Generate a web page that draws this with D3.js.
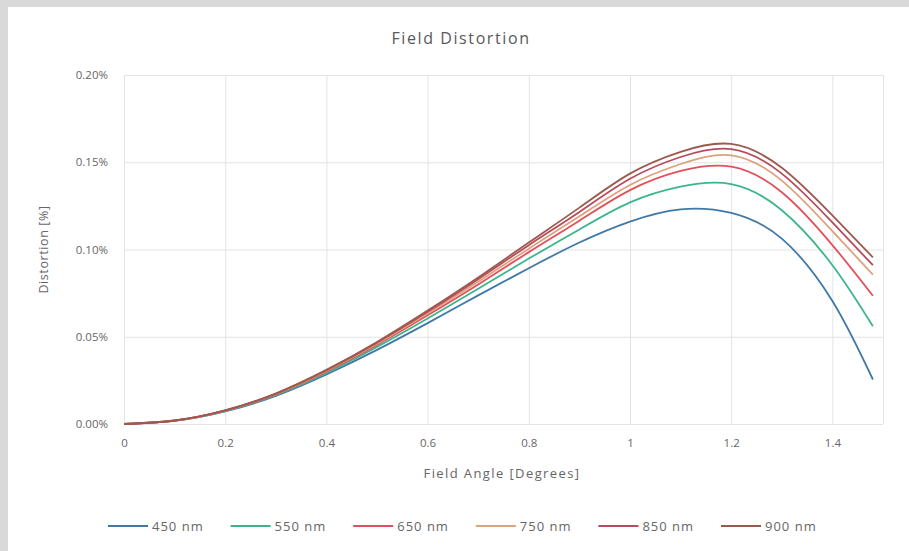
<!DOCTYPE html>
<html lang="en">
<head>
    <meta charset="UTF-8">
    <title>Field Distortion</title>
    <script src="https://d3js.org/d3.v7.min.js"></script>
    <style>
        body { margin: 0; background: #d9d9d9; }
        svg { display: block; font-family: "Open Sans", sans-serif; }
    </style>
</head>
<body>
    <div id="chart"></div>

    <script>
        // field angle in degrees
        const angles = [0, 0.1, 0.2, 0.3, 0.4, 0.5, 0.6, 0.7, 0.8, 0.9, 1.0, 1.1, 1.2, 1.3, 1.4, 1.48];

        // distortion in percent
        const d450 = [0, 0.0018, 0.0072, 0.0161, 0.0284, 0.0425, 0.0578, 0.0737, 0.0893, 0.1040, 0.1160, 0.1230, 0.1210, 0.1062, 0.0705, 0.0255];
        const d550 = [0, 0.0019, 0.0074, 0.0166, 0.0293, 0.0442, 0.0605, 0.0775, 0.0948, 0.1115, 0.1270, 0.1360, 0.1375, 0.1225, 0.0910, 0.0560];
        const d650 = [0, 0.0019, 0.0076, 0.0170, 0.0300, 0.0453, 0.0623, 0.0800, 0.0985, 0.1165, 0.1340, 0.1450, 0.1475, 0.1328, 0.1025, 0.0735];
        const d750 = [0, 0.0019, 0.0077, 0.0172, 0.0304, 0.0460, 0.0634, 0.0815, 0.1005, 0.1190, 0.1370, 0.1490, 0.1540, 0.1395, 0.1105, 0.0856];
        const d850 = [0, 0.0020, 0.0078, 0.0174, 0.0308, 0.0466, 0.0643, 0.0830, 0.1025, 0.1215, 0.1405, 0.1530, 0.1575, 0.1435, 0.1155, 0.0910];
        const d900 = [0, 0.0020, 0.0078, 0.0175, 0.0310, 0.0470, 0.0650, 0.0840, 0.1040, 0.1240, 0.1435, 0.1560, 0.1605, 0.1468, 0.1195, 0.0955];

        const seriesNames = ["450 nm", "550 nm", "650 nm", "750 nm", "850 nm", "900 nm"];
        const seriesValues = [d450, d550, d650, d750, d850, d900];
        const colors = ["#4079a8", "#3db58b", "#e2505c", "#dca27c", "#b94a5e", "#9c5a4c"];

        const xTicks = [0, 0.2, 0.4, 0.6, 0.8, 1, 1.2, 1.4];
        const yTicks = [0, 0.05, 0.10, 0.15, 0.20];

        const width = 909;
        const height = 551;
        const margin = { top: 75, right: 26, bottom: 127, left: 124 };

        const svg = d3.select("#chart")
            .append("svg")
            .attr("width", width)
            .attr("height", height);

        // white chart panel on the grey page
        svg.append("rect")
            .attr("x", 8)
            .attr("y", 7)
            .attr("width", width - 8)
            .attr("height", height - 7)
            .attr("fill", "#fff");

        const x = d3.scaleLinear()
            .domain([0, 1.5])
            .range([margin.left, width - margin.right]);

        const y = d3.scaleLinear()
            .domain([0, 0.2])
            .range([height - margin.bottom, margin.top]);

        // gridlines
        svg.append("g")
            .attr("transform", `translate(0,${height - margin.bottom})`)
            .call(d3.axisBottom(x).tickValues(xTicks.concat([1.5])).tickSize(-(height - margin.top - margin.bottom)).tickFormat(""))
            .call(g => g.select(".domain").remove())
            .call(g => g.selectAll("line").attr("stroke", "#e3e3e3"));

        svg.append("g")
            .attr("transform", `translate(${margin.left},0)`)
            .call(d3.axisLeft(y).tickValues(yTicks).tickSize(-(width - margin.left - margin.right)).tickFormat(""))
            .call(g => g.select(".domain").remove())
            .call(g => g.selectAll("line").attr("stroke", "#e3e3e3"));

        // tick labels
        svg.append("g")
            .attr("transform", `translate(0,${height - margin.bottom})`)
            .call(d3.axisBottom(x).tickValues(xTicks).tickSize(0).tickPadding(15).tickFormat(d3.format("~g")))
            .call(g => g.select(".domain").remove())
            .call(g => g.selectAll("text").attr("fill", "#666").attr("font-size", 11.5).attr("font-family", "Open Sans"));

        svg.append("g")
            .attr("transform", `translate(${margin.left},0)`)
            .call(d3.axisLeft(y).tickValues(yTicks).tickSize(0).tickPadding(16).tickFormat(d => d.toFixed(2) + "%"))
            .call(g => g.select(".domain").remove())
            .call(g => g.selectAll("text").attr("fill", "#666").attr("font-size", 11.5).attr("font-family", "Open Sans"));

        // lines
        const line = d3.line()
            .x(d => x(d[0]))
            .y(d => y(d[1]))
            .curve(d3.curveNatural);

        svg.append("g")
            .selectAll("path")
            .data(seriesValues)
            .join("path")
            .attr("fill", "none")
            .attr("stroke", (d, i) => colors[i])
            .attr("stroke-width", 1.8)
            .attr("d", d => line(d.map((v, i) => [angles[i], v])));

        // titles
        svg.append("text")
            .attr("x", 461)
            .attr("y", 44)
            .attr("text-anchor", "middle")
            .attr("font-size", 16)
            .attr("letter-spacing", 1.6)
            .attr("fill", "#595959")
            .text("Field Distortion");

        svg.append("text")
            .attr("x", 502)
            .attr("y", 478)
            .attr("text-anchor", "middle")
            .attr("font-size", 13)
            .attr("letter-spacing", 1.4)
            .attr("fill", "#666")
            .text("Field Angle [Degrees]");

        svg.append("text")
            .attr("transform", `translate(48,${(margin.top + height - margin.bottom) / 2}) rotate(-90)`)
            .attr("text-anchor", "middle")
            .attr("font-size", 12.5)
            .attr("letter-spacing", 0.6)
            .attr("fill", "#666")
            .text("Distortion [%]");

        // legend
        const legend = svg.append("g")
            .selectAll("g")
            .data(seriesNames)
            .join("g")
            .attr("transform", (d, i) => `translate(${108 + i * 122.6},526)`);

        legend.append("line")
            .attr("x1", 0)
            .attr("x2", 40)
            .attr("stroke", (d, i) => colors[i])
            .attr("stroke-width", 2);

        legend.append("text")
            .attr("x", 44)
            .attr("dy", "0.35em")
            .attr("font-size", 13)
            .attr("letter-spacing", 1)
            .attr("fill", "#666")
            .text(d => d);
    </script>
</body>
</html>
